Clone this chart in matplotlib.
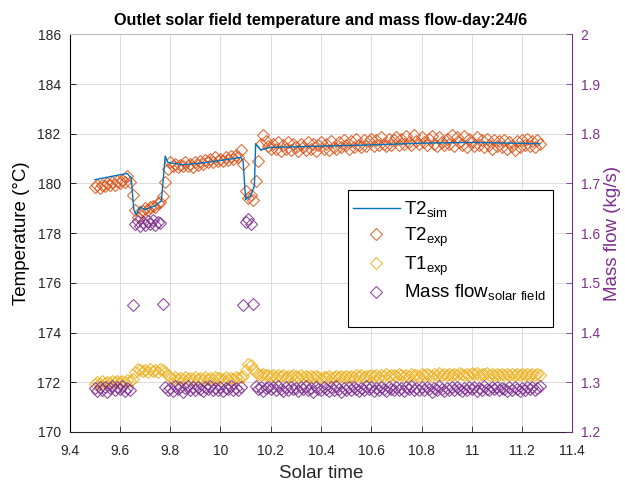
import numpy as np
import matplotlib

matplotlib.use("Agg")
import matplotlib.pyplot as plt
from matplotlib.lines import Line2D
from matplotlib.patches import Rectangle

plt.rcParams["font.family"] = ["Liberation Sans", "DejaVu Sans"]
plt.rcParams["mathtext.fontset"] = "custom"
plt.rcParams["mathtext.rm"] = "Liberation Sans"

BLUE = "#0072BD"
ORANGE = "#D95319"
YELLOW = "#EDB120"
PURPLE = "#7E2F8E"
DARK = "#262626"

# experimental samples: 9.50 h to 11.27 h, one every 0.01 h
t_exp = np.round(np.arange(9.50, 11.275, 0.01), 2)

T2_exp = [
    179.85, 179.92, 179.80, 179.95, 179.88, 180.00, 179.92, 180.05, 179.95, 180.08,
    180.00, 180.12, 180.05, 180.30, 180.05, 179.55, 178.95, 178.65, 178.85, 178.90,
    179.00, 178.95, 179.05, 179.10, 179.05, 179.20, 179.25, 179.50, 180.05, 180.60,
    180.85, 180.70, 180.80, 180.65, 180.75, 180.70, 180.85, 180.72, 180.80, 180.68,
    180.85, 180.75, 180.90, 180.80, 180.95, 180.85, 181.00, 180.88, 181.05, 180.92,
    181.00, 180.90, 181.05, 180.95, 181.10, 181.00, 181.15, 181.05, 181.35, 180.80,
    179.70, 179.40, 179.55, 179.35, 180.10, 180.90, 181.60, 181.95, 181.70, 181.50,
    181.40, 181.60, 181.40, 181.65, 181.30, 181.55, 181.40, 181.65, 181.35, 181.60,
    181.45, 181.30, 181.60, 181.45, 181.35, 181.65, 181.40, 181.60, 181.30, 181.55,
    181.65, 181.40, 181.60, 181.35, 181.70, 181.45, 181.40, 181.65, 181.45, 181.75,
    181.55, 181.40, 181.70, 181.45, 181.80, 181.55, 181.45, 181.75, 181.50, 181.70,
    181.80, 181.50, 181.75, 181.55, 181.85, 181.60, 181.50, 181.80, 181.55, 181.75,
    181.85, 181.55, 181.80, 181.60, 181.90, 181.65, 181.55, 181.95, 181.70, 181.60,
    181.85, 181.65, 181.55, 181.80, 181.90, 181.60, 181.50, 181.85, 181.65, 181.55,
    181.80, 181.60, 181.95, 181.50, 181.85, 181.65, 181.55, 181.90, 181.45, 181.80,
    181.65, 181.50, 181.85, 181.55, 181.75, 181.45, 181.80, 181.55, 181.40, 181.75,
    181.50, 181.70, 181.45, 181.75, 181.40, 181.65, 181.50, 181.35, 181.70, 181.45,
    181.75, 181.55, 181.80, 181.50, 181.70, 181.45, 181.75, 181.60,
]

T1_exp = [
    171.95, 172.00, 171.95, 172.05, 171.98, 172.02, 171.96, 172.04, 172.00, 172.05,
    172.00, 172.05, 172.02, 172.08, 172.05, 172.15, 172.40, 172.55, 172.50, 172.45,
    172.50, 172.40, 172.55, 172.45, 172.50, 172.42, 172.55, 172.48, 172.40, 172.30,
    172.20, 172.15, 172.20, 172.12, 172.18, 172.15, 172.20, 172.13, 172.18, 172.15,
    172.20, 172.15, 172.18, 172.12, 172.20, 172.15, 172.18, 172.13, 172.20, 172.16,
    172.18, 172.14, 172.20, 172.15, 172.18, 172.13, 172.20, 172.16, 172.22, 172.25,
    172.50, 172.75, 172.70, 172.55, 172.40, 172.35, 172.30, 172.32, 172.28, 172.30,
    172.25, 172.30, 172.22, 172.28, 172.25, 172.30, 172.22, 172.27, 172.24, 172.30,
    172.25, 172.22, 172.28, 172.20, 172.25, 172.22, 172.27, 172.20, 172.24, 172.21,
    172.18, 172.23, 172.20, 172.25, 172.18, 172.22, 172.26, 172.20, 172.24, 172.20,
    172.25, 172.20, 172.27, 172.22, 172.28, 172.24, 172.30, 172.22, 172.27, 172.25,
    172.30, 172.25, 172.28, 172.23, 172.30, 172.26, 172.32, 172.25, 172.28, 172.30,
    172.26, 172.32, 172.28, 172.25, 172.30, 172.27, 172.33, 172.28, 172.30, 172.26,
    172.32, 172.28, 172.35, 172.30, 172.27, 172.33, 172.30, 172.36, 172.28, 172.32,
    172.30, 172.35, 172.28, 172.33, 172.30, 172.36, 172.32, 172.28, 172.35, 172.30,
    172.37, 172.32, 172.38, 172.30, 172.35, 172.32, 172.36, 172.30, 172.34, 172.31,
    172.35, 172.30, 172.33, 172.28, 172.34, 172.30, 172.35, 172.29, 172.33, 172.30,
    172.34, 172.30, 172.32, 172.28, 172.33, 172.30, 172.32, 172.29,
]

mass_flow = [
    1.288, 1.282, 1.291, 1.285, 1.290, 1.280, 1.288, 1.293, 1.284, 1.290,
    1.286, 1.292, 1.283, 1.289, 1.285, 1.455, 1.618, 1.625, 1.615, 1.622,
    1.617, 1.624, 1.619, 1.626, 1.616, 1.623, 1.620, 1.457, 1.290, 1.284,
    1.289, 1.283, 1.292, 1.286, 1.290, 1.281, 1.288, 1.293, 1.285, 1.290,
    1.284, 1.291, 1.287, 1.282, 1.290, 1.286, 1.293, 1.284, 1.289, 1.285,
    1.291, 1.283, 1.288, 1.286, 1.292, 1.284, 1.289, 1.285, 1.290, 1.455,
    1.622, 1.628, 1.618, 1.457, 1.292, 1.286, 1.290, 1.283, 1.288, 1.291,
    1.286, 1.290, 1.284, 1.292, 1.287, 1.283, 1.290, 1.285, 1.291, 1.286,
    1.289, 1.282, 1.290, 1.286, 1.292, 1.284, 1.288, 1.281, 1.290, 1.286,
    1.284, 1.291, 1.287, 1.283, 1.290, 1.285, 1.292, 1.286, 1.280, 1.289,
    1.285, 1.291, 1.284, 1.290, 1.287, 1.282, 1.289, 1.285, 1.292, 1.286,
    1.290, 1.283, 1.288, 1.285, 1.291, 1.286, 1.282, 1.290, 1.287, 1.284,
    1.291, 1.285, 1.289, 1.283, 1.290, 1.286, 1.292, 1.284, 1.288, 1.285,
    1.290, 1.284, 1.291, 1.286, 1.281, 1.289, 1.285, 1.292, 1.287, 1.283,
    1.289, 1.285, 1.291, 1.284, 1.290, 1.286, 1.282, 1.289, 1.285, 1.291,
    1.286, 1.290, 1.283, 1.289, 1.285, 1.292, 1.287, 1.284, 1.290, 1.286,
    1.291, 1.284, 1.289, 1.286, 1.282, 1.290, 1.285, 1.291, 1.287, 1.283,
    1.289, 1.285, 1.291, 1.286, 1.290, 1.284, 1.288, 1.292,
]

# simulated outlet temperature
t_sim = [9.50, 9.55, 9.60, 9.63, 9.645, 9.655, 9.665, 9.68, 9.70, 9.74, 9.765,
         9.78, 9.79, 9.85, 9.95, 10.05, 10.08, 10.09, 10.10, 10.12, 10.135,
         10.14, 10.16, 10.20, 10.40, 10.60, 10.80, 11.00, 11.27]
T2_sim = [180.15, 180.25, 180.35, 180.40, 180.20, 178.95, 178.75, 179.05, 178.95,
          179.10, 179.30, 181.10, 180.85, 180.75, 180.85, 181.00, 181.05, 180.90,
          179.35, 179.50, 179.90, 181.60, 181.35, 181.45, 181.50, 181.55, 181.62,
          181.65, 181.60]

x_ticks = [9.4, 9.6, 9.8, 10.0, 10.2, 10.4, 10.6, 10.8, 11.0, 11.2, 11.4]
x_labels = ["9.4", "9.6", "9.8", "10", "10.2", "10.4", "10.6", "10.8", "11", "11.2", "11.4"]
y_ticks = [170, 172, 174, 176, 178, 180, 182, 184, 186]
m_ticks = [1.2, 1.3, 1.4, 1.5, 1.6, 1.7, 1.8, 1.9, 2.0]
m_labels = ["1.2", "1.3", "1.4", "1.5", "1.6", "1.7", "1.8", "1.9", "2"]


def main():
    fig = plt.figure(figsize=(6.25, 4.83), dpi=100)
    ax = fig.add_axes([0.1115, 0.1056, 0.8042, 0.8234])
    ax2 = ax.twinx()

    mk = dict(linestyle="none", marker="D", markersize=6.0, markerfacecolor="none",
              markeredgewidth=0.8, alpha=0.85)
    ax.plot(t_exp, T2_exp, color=ORANGE, zorder=2, **mk)
    ax.plot(t_exp, T1_exp, color=YELLOW, zorder=2, **mk)
    ax.plot(t_sim, T2_sim, color=BLUE, linewidth=1.0, zorder=3)
    ax2.plot(t_exp, mass_flow, color=PURPLE, **mk)

    ax.set_xlim(9.4, 11.4)
    ax.set_ylim(170, 186)
    ax2.set_ylim(1.2, 2.0)
    ax.set_xticks(x_ticks)
    ax.set_xticklabels(x_labels)
    ax.set_yticks(y_ticks)
    ax.set_yticklabels([str(v) for v in y_ticks])
    ax2.set_yticks(m_ticks)
    ax2.set_yticklabels(m_labels)

    ax.grid(True, color="#dcdcdc", linewidth=0.7)
    ax.set_axisbelow(True)
    ax.tick_params(axis="both", direction="in", length=4, width=0.6, colors=DARK,
                   labelsize=10)
    ax.tick_params(axis="x", pad=8.5)
    ax.tick_params(axis="y", pad=6.5, right=False)
    ax.tick_params(axis="y", colors="black", labelcolor=DARK)
    ax2.tick_params(axis="y", direction="in", length=4, width=0.6, colors=PURPLE,
                    labelsize=10, pad=6)

    ax.spines["left"].set_color("black")
    ax.spines["bottom"].set_color(DARK)
    ax.spines["top"].set_color("#bdbdbd")
    ax.spines["right"].set_visible(False)
    for s in ["left", "top", "bottom"]:
        ax2.spines[s].set_visible(False)
    ax2.spines["right"].set_color(PURPLE)
    for s in ax.spines.values():
        s.set_linewidth(0.8)
    ax2.spines["right"].set_linewidth(0.8)

    ax.set_xlabel("Solar time", fontsize=13.5, color=DARK, labelpad=5)
    ax.set_ylabel("Temperature (°C)", fontsize=13.5, color="black", labelpad=5)
    ax2.set_ylabel("Mass flow (kg/s)", fontsize=13.5, color=PURPLE, labelpad=3)
    ax.set_title("Outlet solar field temperature and mass flow-day:24/6",
                 fontsize=11.7, fontweight="bold", pad=7)

    # legend box (MATLAB style: tight sides, roomy top/bottom)
    box = Rectangle((0.5537, 0.264), 0.4079, 0.3445, transform=ax2.transAxes,
                    facecolor="white", edgecolor="black", linewidth=0.8, zorder=5)
    ax2.add_patch(box)

    mh = dict(linestyle="none", marker="D", markersize=6.0, markerfacecolor="none",
              markeredgewidth=0.8, alpha=0.85)
    handles = [
        Line2D([], [], color=BLUE, linewidth=1.0),
        Line2D([], [], color=ORANGE, **mh),
        Line2D([], [], color=YELLOW, **mh),
        Line2D([], [], color=PURPLE, **mh),
    ]
    labels = [
        r"T2$_{\mathregular{sim}}$",
        r"T2$_{\mathregular{exp}}$",
        r"T1$_{\mathregular{exp}}$",
        r"Mass flow$_{\mathregular{solar\ field}}$",
    ]
    leg = ax2.legend(handles, labels, loc="upper left", bbox_to_anchor=(0.5537, 0.595),
                     borderaxespad=0, fontsize=13.5, frameon=False, handlelength=2.5,
                     labelspacing=0.28, borderpad=0.25, handletextpad=0.25)
    leg.set_zorder(6)

    fig.savefig("out.png", dpi=100)
    plt.close(fig)


if __name__ == "__main__":
    main()
